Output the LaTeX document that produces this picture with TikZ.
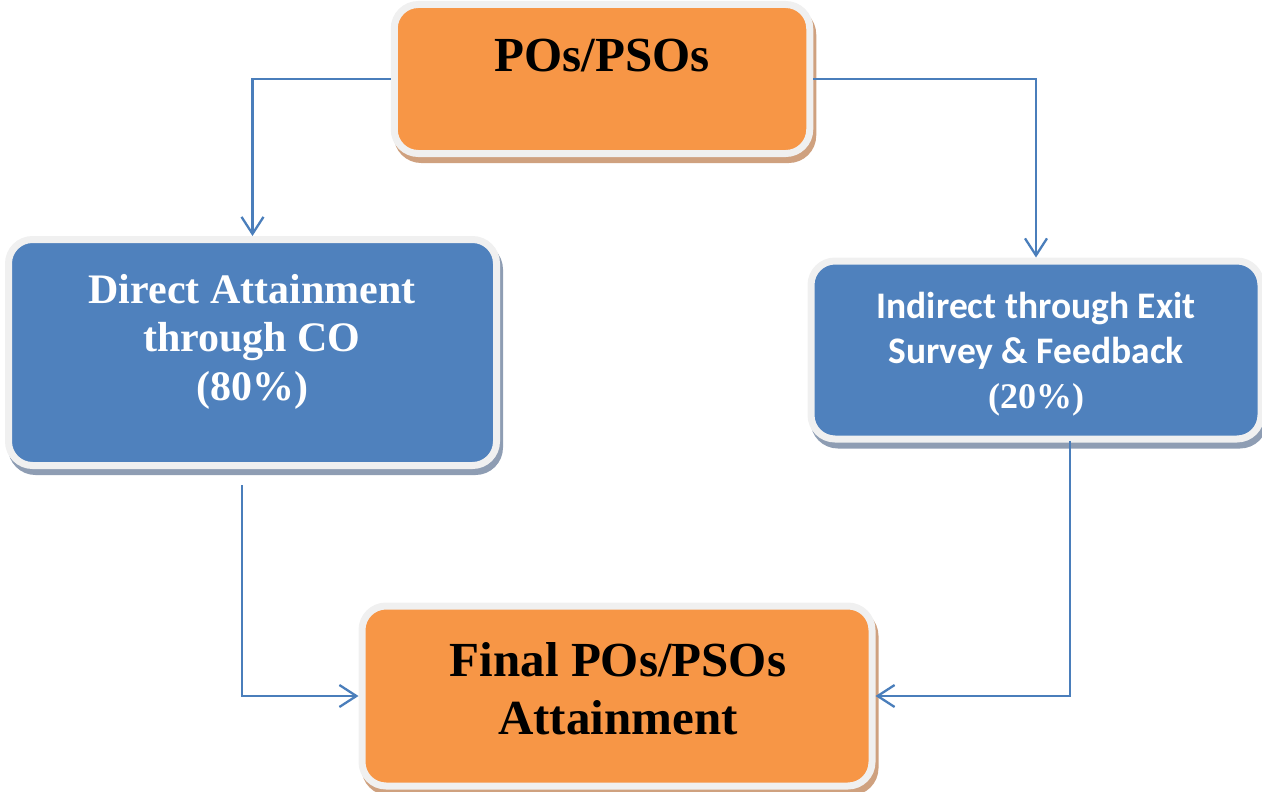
\documentclass[tikz,border=0pt]{standalone}
\usepackage{fontspec}
\setmainfont{Liberation Serif}
\newfontfamily\calib{Carlito}
\usetikzlibrary{arrows.meta}
\definecolor{po}{HTML}{F79646}
\definecolor{pb}{HTML}{4F81BD}
\definecolor{bordergray}{HTML}{F0F0F0}
\definecolor{oshadow}{HTML}{CFA17F}
\definecolor{bshadow}{HTML}{8E9DB3}
\definecolor{lineblue}{HTML}{4A7EBB}
\begin{document}
\begin{tikzpicture}[x=1pt,y=-1pt,
  box/.style={rectangle, rounded corners=24pt, draw=bordergray, line width=7pt, inner sep=0pt},
  obox/.style={box, fill=po, preaction={draw=oshadow, fill=oshadow, transform canvas={xshift=3pt,yshift=-6pt}}},
  bbox/.style={box, fill=pb, preaction={draw=bshadow, fill=bshadow, transform canvas={xshift=3pt,yshift=-6pt}}},
  conn/.style={draw=lineblue, line width=2.3pt, -{Straight Barb[length=17pt,width=22pt,line width=2.3pt]}},
  ttl/.style={anchor=base, inner sep=0pt, font=\bfseries\fontsize{49}{58}\selectfont},
  wtl/.style={anchor=base, inner sep=0pt, text=white, font=\bfseries\fontsize{42}{48}\selectfont},
  stl/.style={anchor=base, inner sep=0pt, text=white, font=\calib\bfseries\fontsize{37.5}{44}\selectfont},
  ptl/.style={anchor=base, inner sep=0pt, text=white, font=\bfseries\fontsize{36}{44}\selectfont}
]
\useasboundingbox (0,0) rectangle (1262,792);

\node[obox, minimum width=415.5pt, minimum height=149pt] (top) at (602,79) {};
\node[bbox, minimum width=488pt, minimum height=226pt] (left) at (252.5,352.5) {};
\node[bbox, minimum width=450pt, minimum height=178pt] (right) at (1036,350) {};
\node[obox, minimum width=510pt, minimum height=180pt] (bot) at (617,696) {};

\node[ttl] (t1) at (602,72) {POs/PSOs};

\node[wtl] (l1) at (252,303) {Direct Attainment};
\node[wtl] (l2) at (252,351) {through CO};
\node[wtl] (l3) at (252,400) {(80\%)};

\node[stl] (r1) at (1036,318) {Indirect through Exit};
\node[stl] (r2) at (1036,363) {Survey \& Feedback};
\node[ptl] (r3) at (1036,408) {(20\%)};

\node[ttl] (b1) at (618,676) {Final POs/PSOs};
\node[ttl] (b2) at (618,734) {Attainment};

\coordinate (lfoot) at (242,485);
\coordinate (rfoot) at (1070,441);

\draw[conn] (top.west) -| (left.north);
\draw[conn] (top.east) -| (right.north);
\draw[conn] (lfoot) |- (bot.west);
\draw[conn] (rfoot) |- (bot.east);
\end{tikzpicture}
\end{document}
